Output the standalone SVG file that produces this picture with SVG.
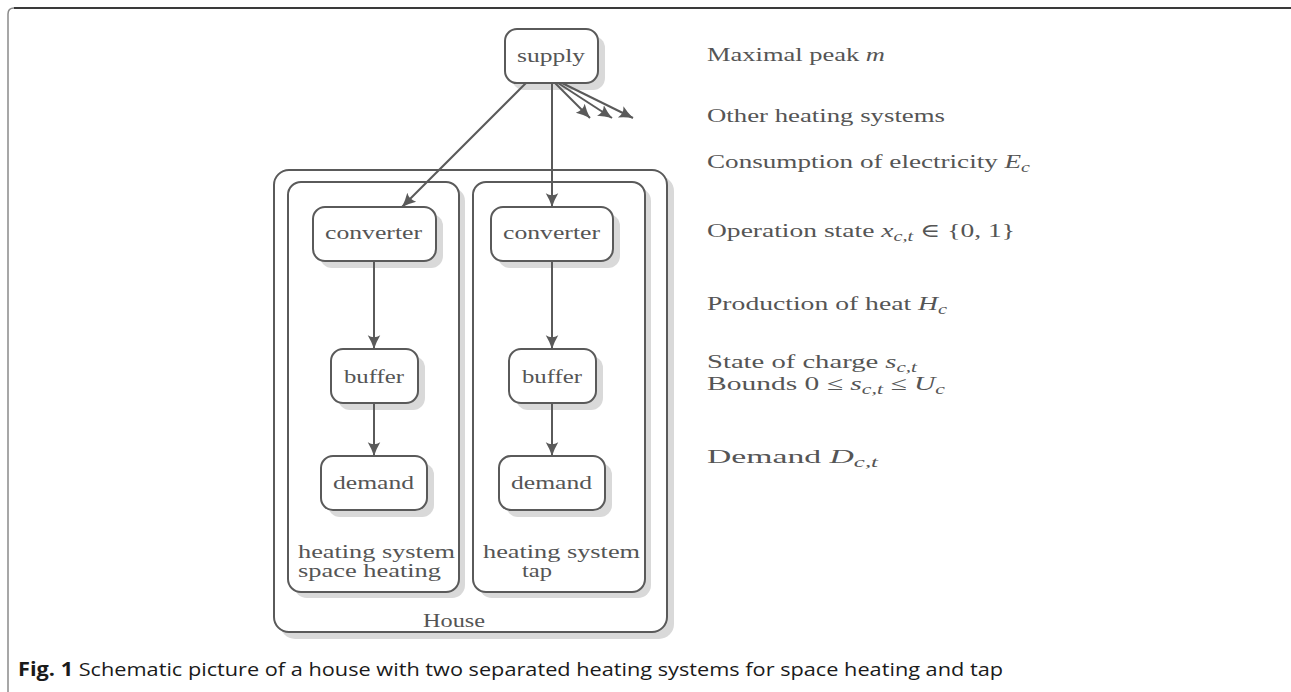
<svg xmlns="http://www.w3.org/2000/svg" width="1291" height="692" viewBox="0 0 1291 692">
  <style>
    .box { fill: #ffffff; stroke: #5a5a5a; stroke-width: 2; }
    .shadow { fill: #d9d9d9; stroke: none; }
    .lbl { font-family: "Liberation Serif", "DejaVu Serif", serif; font-size: 19px; fill: #555555; }
    .note { font-family: "Liberation Serif", "DejaVu Serif", serif; font-size: 19px; fill: #555555; }
    .m { font-style: italic; }
    .edge { fill: none; stroke: #5a5a5a; stroke-width: 2; }
    .cap { font-family: "Open Sans", "Noto Sans", "Liberation Sans", sans-serif; font-size: 19px; fill: #1a1a1a; }
  </style>
  <defs>
    <marker id="arr" viewBox="0 0 12 12" refX="11" refY="6" markerWidth="15" markerHeight="15" markerUnits="userSpaceOnUse" orient="auto">
      <path d="M0,1 Q5,4 11,6 Q5,8 0,11 Q3,6 0,1 Z" fill="#5a5a5a"/>
    </marker>
  </defs>

  <rect width="1291" height="692" fill="#ffffff"/>

  <!-- page frame -->
  <path d="M8,692 L8,14 Q8,8 14,8 L1291,8" fill="none" stroke="#8a8a8a" stroke-width="1.5"/>
  <path d="M14,8 L1291,8" fill="none" stroke="#3a3a3a" stroke-width="2"/>

  <!-- House container -->
  <g id="house">
    <rect class="shadow" x="280" y="176" width="394" height="463" rx="15"/>
    <rect class="box" x="274" y="170" width="393" height="462" rx="15"/>
    <text class="lbl" x="423" y="627" textLength="62" lengthAdjust="spacingAndGlyphs">House</text>
  </g>

  <!-- heating system: space heating -->
  <g id="hs-space">
    <rect class="shadow" x="294" y="188" width="171" height="410" rx="13"/>
    <rect class="box" x="288" y="182" width="171" height="410" rx="13"/>
    <text class="lbl" x="298" y="558" textLength="157" lengthAdjust="spacingAndGlyphs">heating system</text>
    <text class="lbl" x="298" y="577" textLength="143" lengthAdjust="spacingAndGlyphs">space heating</text>
  </g>

  <!-- heating system: tap -->
  <g id="hs-tap">
    <rect class="shadow" x="479" y="188" width="172" height="410" rx="13"/>
    <rect class="box" x="473" y="182" width="172" height="410" rx="13"/>
    <text class="lbl" x="483" y="558" textLength="157" lengthAdjust="spacingAndGlyphs">heating system</text>
    <text class="lbl" x="522" y="577" textLength="30" lengthAdjust="spacingAndGlyphs">tap</text>
  </g>

  <!-- supply -->
  <g id="supply">
    <rect class="shadow" x="512" y="36" width="93" height="54" rx="12"/>
    <rect class="box" x="505" y="29" width="93" height="54" rx="12"/>
    <text class="lbl" x="517" y="62" textLength="68" lengthAdjust="spacingAndGlyphs">supply</text>
  </g>

  <!-- space heating chain -->
  <g id="conv-space">
    <rect class="shadow" x="320" y="214" width="123" height="54" rx="12"/>
    <rect class="box" x="313" y="207" width="123" height="54" rx="12"/>
    <text class="lbl" x="325" y="239" textLength="97" lengthAdjust="spacingAndGlyphs">converter</text>
  </g>
  <g id="buf-space">
    <rect class="shadow" x="338" y="356" width="87" height="54" rx="12"/>
    <rect class="box" x="331" y="349" width="87" height="54" rx="12"/>
    <text class="lbl" x="344" y="383" textLength="60" lengthAdjust="spacingAndGlyphs">buffer</text>
  </g>
  <g id="dem-space">
    <rect class="shadow" x="328" y="463" width="106" height="54" rx="12"/>
    <rect class="box" x="321" y="456" width="106" height="54" rx="12"/>
    <text class="lbl" x="333" y="489" textLength="81" lengthAdjust="spacingAndGlyphs">demand</text>
  </g>

  <!-- tap chain -->
  <g id="conv-tap">
    <rect class="shadow" x="498" y="214" width="122" height="54" rx="12"/>
    <rect class="box" x="491" y="207" width="122" height="54" rx="12"/>
    <text class="lbl" x="503" y="239" textLength="97" lengthAdjust="spacingAndGlyphs">converter</text>
  </g>
  <g id="buf-tap">
    <rect class="shadow" x="516" y="356" width="87" height="54" rx="12"/>
    <rect class="box" x="509" y="349" width="87" height="54" rx="12"/>
    <text class="lbl" x="522" y="383" textLength="60" lengthAdjust="spacingAndGlyphs">buffer</text>
  </g>
  <g id="dem-tap">
    <rect class="shadow" x="506" y="463" width="106" height="54" rx="12"/>
    <rect class="box" x="499" y="456" width="106" height="54" rx="12"/>
    <text class="lbl" x="511" y="489" textLength="81" lengthAdjust="spacingAndGlyphs">demand</text>
  </g>

  <!-- connectors -->
  <g id="connectors">
    <line class="edge" x1="526" y1="83" x2="402" y2="207" marker-end="url(#arr)"/>
    <line class="edge" x1="552" y1="83" x2="552" y2="207" marker-end="url(#arr)"/>
    <line class="edge" x1="555" y1="83" x2="590" y2="118" marker-end="url(#arr)"/>
    <line class="edge" x1="558" y1="83" x2="612" y2="118" marker-end="url(#arr)"/>
    <line class="edge" x1="562" y1="83" x2="633" y2="118" marker-end="url(#arr)"/>
    <line class="edge" x1="374" y1="261" x2="374" y2="349" marker-end="url(#arr)"/>
    <line class="edge" x1="374" y1="403" x2="374" y2="456" marker-end="url(#arr)"/>
    <line class="edge" x1="552" y1="261" x2="552" y2="349" marker-end="url(#arr)"/>
    <line class="edge" x1="552" y1="403" x2="552" y2="456" marker-end="url(#arr)"/>
  </g>

  <!-- annotations -->
  <g id="notes">
    <text class="note" x="707" y="61" textLength="178" lengthAdjust="spacingAndGlyphs">Maximal peak <tspan class="m">m</tspan></text>
    <text class="note" x="707" y="122" textLength="238" lengthAdjust="spacingAndGlyphs">Other heating systems</text>
    <text class="note" x="707" y="168" textLength="323" lengthAdjust="spacingAndGlyphs">Consumption of electricity <tspan class="m">E</tspan><tspan class="m" font-size="14" dy="4">c</tspan></text>
    <text class="note" x="707" y="237" textLength="308" lengthAdjust="spacingAndGlyphs">Operation state <tspan class="m">x</tspan><tspan class="m" font-size="14" dy="4">c,t</tspan><tspan dy="-4"> ∈ {0, 1}</tspan></text>
    <text class="note" x="707" y="310" textLength="240" lengthAdjust="spacingAndGlyphs">Production of heat <tspan class="m">H</tspan><tspan class="m" font-size="14" dy="4">c</tspan></text>
    <text class="note" x="707" y="368" textLength="210" lengthAdjust="spacingAndGlyphs">State of charge <tspan class="m">s</tspan><tspan class="m" font-size="14" dy="4">c,t</tspan></text>
    <text class="note" x="707" y="390" textLength="238" lengthAdjust="spacingAndGlyphs">Bounds 0 ≤ <tspan class="m">s</tspan><tspan class="m" font-size="14" dy="4">c,t</tspan><tspan dy="-4"> ≤ </tspan><tspan class="m">U</tspan><tspan class="m" font-size="14" dy="4">c</tspan></text>
    <text class="note" x="707" y="463" textLength="171" lengthAdjust="spacingAndGlyphs">Demand <tspan class="m">D</tspan><tspan class="m" font-size="14" dy="4">c,t</tspan></text>
  </g>

  <!-- caption -->
  <text class="cap" x="18" y="676" textLength="985" lengthAdjust="spacingAndGlyphs"><tspan font-weight="bold">Fig. 1</tspan> Schematic picture of a house with two separated heating systems for space heating and tap</text>
</svg>
